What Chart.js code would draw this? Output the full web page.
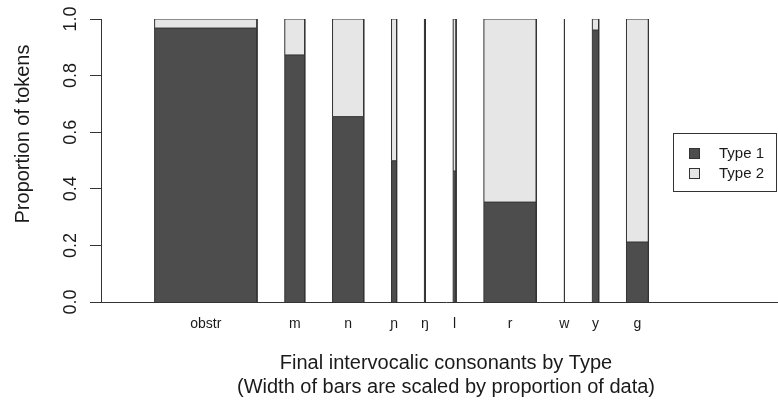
<!DOCTYPE html>
<html>
<head>
<meta charset="utf-8">
<script src="https://cdn.jsdelivr.net/npm/chart.js@4.4.0/dist/chart.umd.min.js"></script>
<style>
  html, body { margin: 0; padding: 0; background: #fff; overflow: hidden; }
  #wrap { position: relative; width: 778px; height: 402px; overflow: hidden; }
  #chart { position: absolute; left: 0; top: 0; }
  #legend {
    position: absolute; left: 673px; top: 133px; width: 104px; height: 59px;
    border: 1px solid #333; box-sizing: border-box;
    font: 15px "Liberation Sans", Arial, sans-serif; color: #1a1a1a;
  }
  #legend .sw { position: absolute; left: 15px; width: 9px; height: 9px; border: 1px solid #333; }
  #legend .lb { position: absolute; left: 45px; line-height: 18px; }
</style>
</head>
<body>
<div id="wrap">
  <canvas id="chart" width="792" height="402"></canvas>
  <div id="legend">
    <div class="sw" style="top:14px;background:#4d4d4d"></div><div class="lb" style="top:10px">Type 1</div>
    <div class="sw" style="top:34px;background:#e6e6e6"></div><div class="lb" style="top:30px">Type 2</div>
  </div>
</div>
<script>
const categories = ["obstr", "m", "n", "ɲ", "ŋ", "l", "r", "w", "y", "g"];
// share of Type 1 tokens in each consonant
const type1Share = [0.968, 0.873, 0.655, 0.499, 1.0, 0.463, 0.353, 1.0, 0.961, 0.212];
// bar widths = proportion of all data
const barWidths = [0.420, 0.082, 0.128, 0.021, 0.004, 0.012, 0.215, 0.002, 0.026, 0.090];
const yTicks = [0, 0.2, 0.4, 0.6, 0.8, 1.0];

const GAP = 0.114;
const X_MIN = -0.22, X_MAX = 2.611;
const DARK = "#4d4d4d", LIGHT = "#e6e6e6", EDGE = "#333";
const FONT = "'Liberation Sans', Arial, sans-serif";
const TEXT = "#1a1a1a";

// bar left edges and centres, from the widths
const lefts = [];
let pos = 0;
barWidths.forEach(w => { lefts.push(pos); pos += w + GAP; });
const centers = lefts.map((l, i) => l + barWidths[i] / 2);

function outline(i, from, to) {
    const x0 = lefts[i], x1 = lefts[i] + barWidths[i];
    return [{x: x0, y: from}, {x: x0, y: to}, {x: x1, y: to}, {x: x1, y: from}];
}

const datasets = [];
categories.forEach((c, i) => {
    datasets.push({
        label: "Type 1", data: outline(i, 0, type1Share[i]),
        backgroundColor: DARK, borderColor: EDGE, borderWidth: 1,
        pointRadius: 0, tension: 0, fill: "origin"
    });
    datasets.push({
        label: "Type 2", data: outline(i, type1Share[i], 1),
        backgroundColor: LIGHT, borderColor: EDGE, borderWidth: 1,
        pointRadius: 0, tension: 0, fill: {value: type1Share[i]}
    });
});

const yTitle = {
    id: "yTitle",
    afterDraw(chart) {
        const ctx = chart.ctx;
        ctx.save();
        ctx.translate(23, 134);
        ctx.rotate(-Math.PI / 2);
        ctx.font = "20px " + FONT;
        ctx.fillStyle = TEXT;
        ctx.textAlign = "center";
        ctx.textBaseline = "middle";
        ctx.fillText("Proportion of tokens", 0, 0);
        ctx.restore();
    }
};

new Chart(document.getElementById("chart"), {
    type: "line",
    data: { datasets },
    plugins: [yTitle],
    options: {
        responsive: false,
        animation: false,
        events: [],
        layout: { padding: { top: 19, right: 1, left: 0, bottom: 0 } },
        plugins: { legend: { display: false }, tooltip: { enabled: false } },
        scales: {
            x: {
                type: "linear", min: X_MIN, max: X_MAX,
                afterFit: s => { s.height = 100; },
                afterBuildTicks: s => { s.ticks = centers.map(v => ({ value: v })); },
                grid: { display: true, drawOnChartArea: false, drawTicks: false },
                border: { display: true, color: EDGE, width: 1 },
                ticks: {
                    autoSkip: false, maxRotation: 0, padding: 14, color: TEXT,
                    font: { size: 14, family: FONT },
                    callback: (v, i) => categories[i]
                },
                title: {
                    display: true, color: TEXT, padding: { top: 0, bottom: 3 },
                    font: { size: 20, family: FONT },
                    text: ["Final intervocalic consonants by Type",
                           "(Width of bars are scaled by proportion of data)"]
                }
            },
            y: {
                min: 0, max: 1,
                afterFit: s => { s.width = 101; },
                afterBuildTicks: s => { s.ticks = yTicks.map(v => ({ value: v })); },
                grid: { drawOnChartArea: false, tickLength: 11, tickColor: EDGE },
                border: { display: true, color: EDGE, width: 1 },
                ticks: {
                    minRotation: 90, maxRotation: 90, crossAlign: "center", padding: 6,
                    color: TEXT, font: { size: 18, family: FONT },
                    callback: v => v.toFixed(1)
                }
            }
        }
    }
});
</script>
</body>
</html>
